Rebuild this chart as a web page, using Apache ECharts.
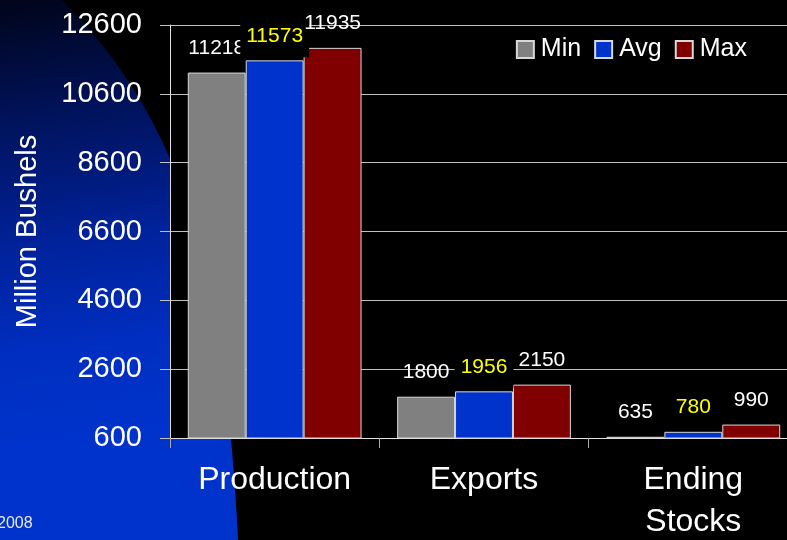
<!DOCTYPE html>
<html>
<head>
<meta charset="utf-8">
<script src="https://cdn.jsdelivr.net/npm/echarts@6/dist/echarts.min.js"></script>
<style>
html,body{margin:0;padding:0;background:#000;}
#chart{width:787px;height:540px;}
</style>
</head>
<body>
<div id="chart"></div>
<script>
const categories = ['Production', 'Exports', 'Ending\nStocks'];
const minValues = [11218, 1800, 635];
const avgValues = [11573, 1956, 780];
const maxValues = [11935, 2150, 990];
const yTicks = [600, 2600, 4600, 6600, 8600, 10600, 12600];

const SANS = "'Liberation Sans', Arial, sans-serif";

// decorative background swoosh (bezier sampled into polygon)
function swoosh() {
  const p0 = [62, 0], c1 = [192, 130], c2 = [225, 290], p1 = [238, 540];
  const pts = [[0, 0]];
  for (let i = 0; i <= 60; i++) {
    const t = i / 60, u = 1 - t;
    pts.push([
      u*u*u*p0[0] + 3*u*u*t*c1[0] + 3*u*t*t*c2[0] + t*t*t*p1[0],
      u*u*u*p0[1] + 3*u*u*t*c1[1] + 3*u*t*t*c2[1] + t*t*t*p1[1]
    ]);
  }
  pts.push([0, 540]);
  return pts;
}

const chart = echarts.init(document.getElementById('chart'));
const labelBase = {
  show: true,
  position: 'top',
  distance: 3,
  padding: [11, 6],
  fontFamily: SANS,
  fontSize: 21
};
function mkSeries(name, data, color, labelColor, bg) {
  return {
    name: name,
    type: 'bar',
    data: data,
    barGap: '0%',
    barCategoryGap: '17%',
    itemStyle: { color: color, borderColor: '#d8d8d8', borderWidth: 1 },
    label: Object.assign({}, labelBase, { color: labelColor, backgroundColor: bg || 'transparent' }),
    emphasis: { disabled: true }
  };
}

chart.setOption({
  backgroundColor: '#000',
  animation: false,
  graphic: [
    {
      type: 'polygon',
      z: -10,
      silent: true,
      shape: { points: swoosh() },
      style: {
        fill: new echarts.graphic.LinearGradient(0, 0, 0.3, 1, [
          { offset: 0, color: '#00051a' },
          { offset: 0.2, color: '#001155' },
          { offset: 0.45, color: '#00229a' },
          { offset: 0.65, color: '#002ec0' },
          { offset: 0.82, color: '#0033cc' },
          { offset: 1, color: '#0033cc' }
        ])
      }
    },
    {
      type: 'text',
      left: -3,
      top: 516,
      z: -5,
      silent: true,
      style: { text: '2008', fill: '#e8e8e8', font: "16px 'Liberation Sans', Arial, sans-serif" }
    }
  ],
  legend: {
    data: ['Min', 'Avg', 'Max'],
    right: 40,
    top: 37,
    padding: 0,
    itemWidth: 17,
    itemHeight: 17,
    itemGap: 13,
    icon: 'rect',
    textStyle: { color: '#fff', fontFamily: SANS, fontSize: 25, padding: [0, 0, 0, 2] }
  },
  grid: {
    left: 170, width: 628, top: 25, height: 413,
    containLabel: false, outerBoundsMode: 'none',
    show: true, backgroundColor: '#000', borderWidth: 0
  },
  xAxis: {
    type: 'category',
    data: categories,
    axisLine: { show: true, lineStyle: { color: '#e0e0e0', width: 1 } },
    axisTick: { show: true, length: 10, lineStyle: { color: '#aaa' } },
    axisLabel: { color: '#fff', fontFamily: SANS, fontSize: 32, lineHeight: 42, margin: 21, interval: 0 }
  },
  yAxis: {
    type: 'value',
    min: 600,
    max: 12600,
    interval: 2000,
    name: 'Million Bushels',
    nameLocation: 'middle',
    nameRotate: 90,
    nameGap: 128,
    nameTextStyle: { color: '#fff', fontFamily: SANS, fontSize: 29 },
    axisLine: { show: true, lineStyle: { color: '#e0e0e0', width: 1 } },
    axisTick: { show: true, length: 10, lineStyle: { color: '#c0c0c0' } },
    splitLine: { show: true, lineStyle: { color: '#c0c0c0', width: 1 } },
    axisLabel: {
      color: '#fff', fontFamily: SANS, fontSize: 29, margin: 28,
      formatter: function (v) { return yTicks.indexOf(v) >= 0 ? String(v) : ''; }
    }
  },
  series: [
    mkSeries('Min', minValues, '#808080', '#ffffff'),
    mkSeries('Avg', avgValues, '#0033cc', '#ffff00', '#000000'),
    mkSeries('Max', maxValues, '#800000', '#ffffff')
  ]
});
</script>
</body>
</html>
